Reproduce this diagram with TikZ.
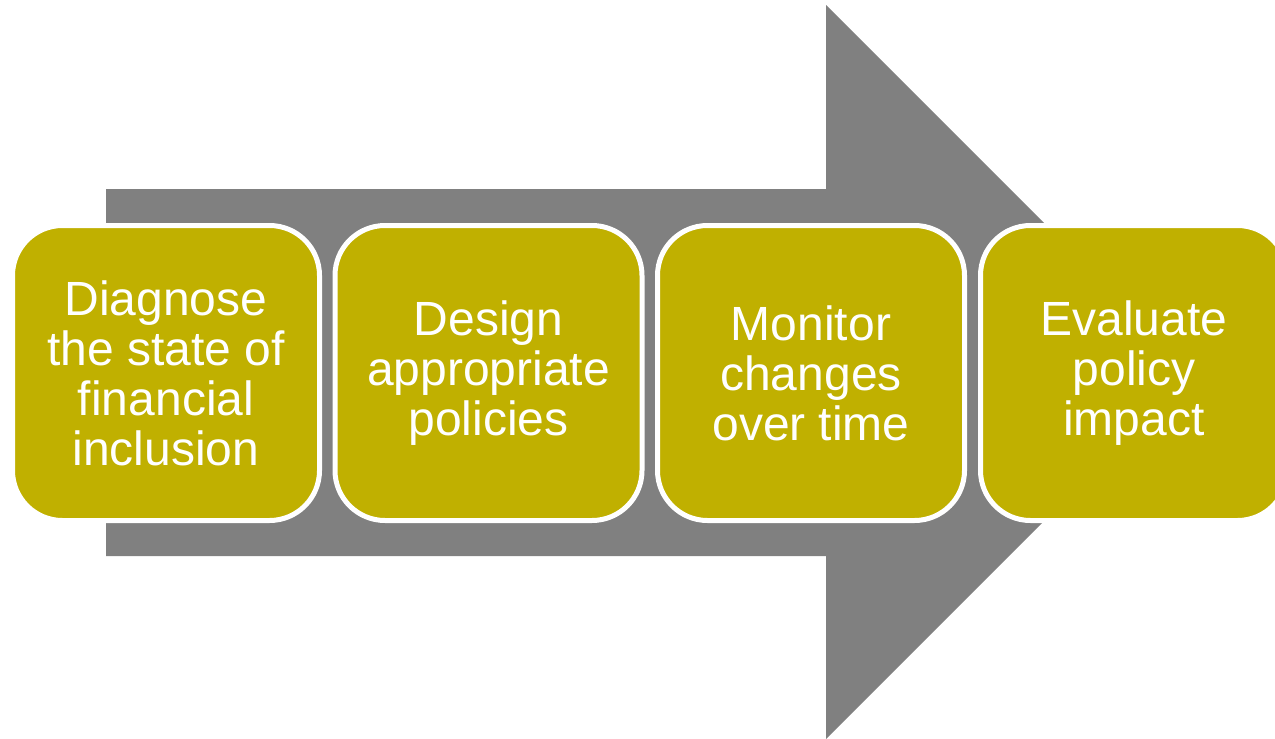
\documentclass[tikz,border=0pt]{standalone}
\usepackage{fontspec}
\setmainfont{Liberation Sans}
\definecolor{olive}{RGB}{192,176,0}
\definecolor{arrowgray}{RGB}{128,128,128}
\begin{document}
\begin{tikzpicture}[x=1pt,y=-1pt,
  stepbox/.style={draw=white,line width=5pt,fill=olive,rounded corners=50pt,
    minimum width=307pt,minimum height=295pt,inner sep=0pt,
    text=white,align=center,font=\fontsize{48}{50}\selectfont}]
\useasboundingbox (0,0) rectangle (1275,739);
\begin{scope}
\clip (0,0) rectangle (1275,739);
\fill[arrowgray] (106,189) -- (826,189) -- (826,5) -- (1193,372) -- (826,739) -- (826,556) -- (106,556) -- cycle;
\node[stepbox] (s1) at (166,373) {Diagnose\\the state of\\financial\\inclusion};
\node[stepbox] (s2) at (488.5,373) {Design\\appropriate\\policies};
\node[stepbox] (s3) at (811,373) {Monitor\\changes\\over time};
\node[stepbox] (s4) at (1134,373) {Evaluate\\policy\\impact};
\end{scope}
\end{tikzpicture}
\end{document}
